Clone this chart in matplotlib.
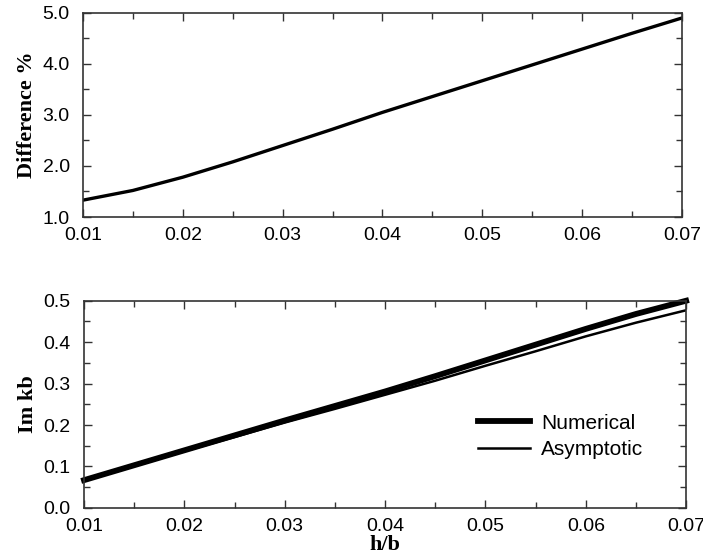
import numpy as np
import matplotlib
matplotlib.use("Agg")
import matplotlib.pyplot as plt
from matplotlib.ticker import MultipleLocator, FormatStrFormatter

# data
hb = [0.01, 0.015, 0.02, 0.025, 0.03, 0.035, 0.04, 0.045, 0.05, 0.055, 0.06, 0.065, 0.07]
diff_pct = [1.33, 1.52, 1.78, 2.08, 2.40, 2.72, 3.05, 3.36, 3.67, 3.98, 4.29, 4.60, 4.90]
im_numerical = [0.067, 0.103, 0.139, 0.175, 0.211, 0.246, 0.281, 0.318, 0.356, 0.394, 0.432, 0.468, 0.500]
im_asymptotic = [0.066, 0.101, 0.137, 0.171, 0.206, 0.239, 0.273, 0.307, 0.343, 0.378, 0.414, 0.447, 0.477]

tick_font = "Liberation Sans"
label_font = "Liberation Serif"

fig = plt.figure(figsize=(7.03, 5.60), dpi=100)
ax1 = fig.add_axes([0.118, 0.6125, 0.852, 0.3645])
ax2 = fig.add_axes([0.1195, 0.093, 0.8565, 0.370])


def style(ax, ymajor, yminor, yfmt):
    ax.set_xlim(0.01, 0.07)
    ax.xaxis.set_major_locator(MultipleLocator(0.01))
    ax.xaxis.set_minor_locator(MultipleLocator(0.005))
    ax.xaxis.set_major_formatter(FormatStrFormatter("%.2f"))
    ax.yaxis.set_major_locator(MultipleLocator(ymajor))
    ax.yaxis.set_minor_locator(MultipleLocator(yminor))
    ax.yaxis.set_major_formatter(FormatStrFormatter(yfmt))
    ax.tick_params(which="both", direction="in", top=True, right=True,
                   width=1.0, color="#333333")
    ax.tick_params(which="major", length=6)
    ax.tick_params(which="minor", length=4)
    ax.tick_params(axis="x", which="major", pad=7)
    ax.tick_params(axis="y", which="major", pad=9.5)
    for lab in ax.get_xticklabels() + ax.get_yticklabels():
        lab.set_fontfamily(tick_font)
        lab.set_fontsize(14)
    for s in ax.spines.values():
        s.set_linewidth(1.2)
        s.set_color("#333333")


# top panel: difference in percent
ax1.plot(hb, diff_pct, color="black", lw=2.4)
ax1.set_ylim(1.0, 5.0)
style(ax1, 1.0, 0.5, "%.1f")
ax1.set_ylabel("Difference %", family=label_font, fontweight="bold", fontsize=16, labelpad=4)

# bottom panel: Im kb
ax2.plot(hb, im_numerical, color="black", lw=4.2, label="Numerical", clip_on=False)
ax2.plot(hb, im_asymptotic, color="black", lw=1.8, label="Asymptotic")
ax2.set_ylim(0.0, 0.5)
style(ax2, 0.1, 0.05, "%.1f")
ax2.set_ylabel("Im kb", family=label_font, fontweight="bold", fontsize=16, labelpad=4)
ax2.set_xlabel("h/b", family=label_font, fontweight="bold", fontsize=16, labelpad=0)
ax2.legend(loc="center left", bbox_to_anchor=(0.654, 0.346), frameon=False,
           borderpad=0, borderaxespad=0,
           prop={"family": tick_font, "size": 15}, handlelength=2.5,
           handletextpad=0.55, labelspacing=0.35)

fig.savefig("out.png", dpi=100)
